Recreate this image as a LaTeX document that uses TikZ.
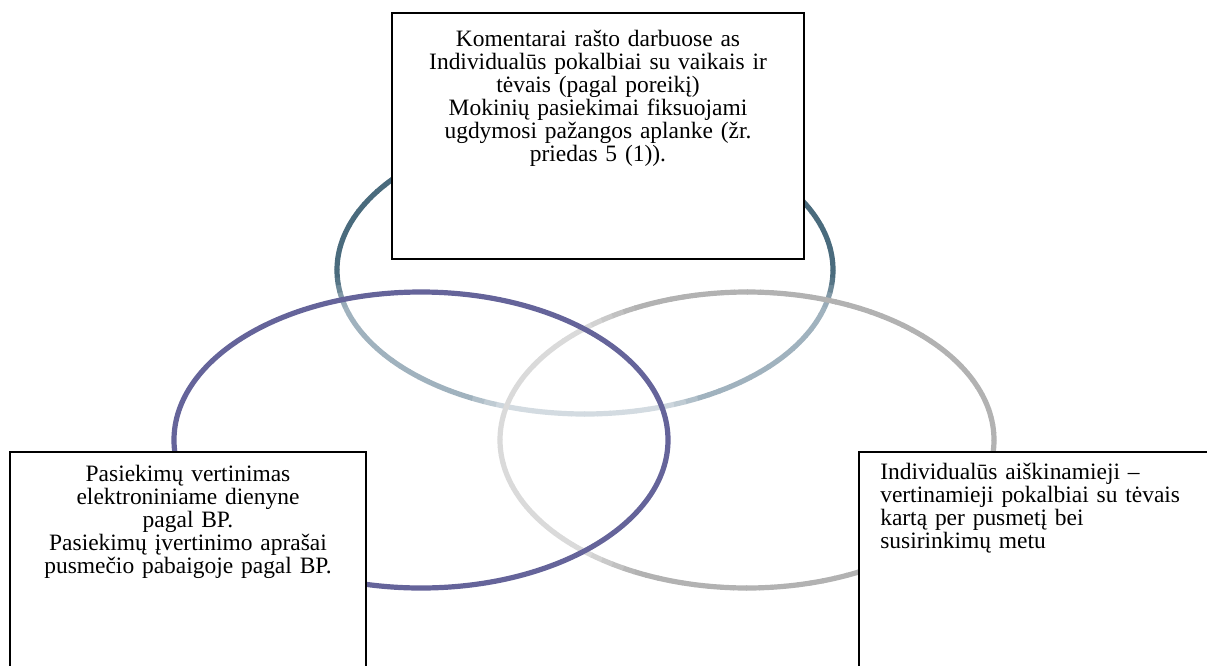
\documentclass[tikz,border=0pt]{standalone}
\usepackage{fontspec}
\setmainfont{Liberation Serif}
\usepackage{tikz}

\definecolor{topdark}{HTML}{4A6B7D}
\definecolor{topmid}{HTML}{A0B2BE}
\definecolor{toplight}{HTML}{D3DBE1}
\definecolor{leftring}{HTML}{65649A}
\definecolor{rightring}{HTML}{B2B2B2}
\definecolor{rightlight}{HTML}{DADADA}

\tikzset{
	ring/.style={line width=3.9pt},
	box/.style={draw=black, line width=1.3pt, fill=white, inner sep=0pt},
	boxtext/.style={inner sep=0pt, font=\fontsize{17.6}{17.3}\selectfont},
}

\begin{document}
\begin{tikzpicture}[x=0.75pt,y=-0.75pt]
				\useasboundingbox (0,0) rectangle (1207,665);
				\clip (0,0) rectangle (1207,665);
				\coordinate (ctop) at (585,270);
				\coordinate (cleft) at (421,440);
				\coordinate (cright) at (747,440);
				
				% top ring: dark above, lighter below
				\foreach \a in {0,3, ...,357}{
					\pgfmathsetmacro{\s}{sin(\a+1.5)}
					\pgfmathsetmacro{\p}{max(0,min(100,(0.25-\s)*500))}
					\pgfmathsetmacro{\q}{max(0,min(100,(\s-0.88)*1400))}
					\colorlet{segc}{topdark!\p!topmid}
					\colorlet{segc}{toplight!\q!segc}
					\draw[ring, segc] (ctop) + ({248*cos(\a)},{144*sin(\a)}) arc[x radius=248, y radius=144, start angle=\a, delta angle=3.2];
				}
				
				% right ring: lighter on the left
				\foreach \a in {0,3, ...,357}{
					\pgfmathsetmacro{\c}{cos(\a+1.5)}
					\pgfmathsetmacro{\p}{max(0,min(100,(-0.45-\c)*500))}
					\colorlet{segc}{rightlight!\p!rightring}
					\draw[ring, segc] (cright) + ({247*cos(\a)},{148*sin(\a)}) arc[x radius=247, y radius=148, start angle=\a, delta angle=3.2];
				}
				
				\draw[ring, leftring] (cleft) ellipse[x radius=247, y radius=148];
				
				\node[box, minimum width=309pt, minimum height=184.5pt] (topbox) at (598,136) {};
				\node[box, minimum width=267pt, minimum height=201pt] (leftbox) at (188,586) {};
				\node[box, minimum width=285.75pt, minimum height=201pt] (rightbox) at (1049.5,586) {};
				
				\node[boxtext, text width=295pt, align=center, anchor=base] (toptext) at (598,46) {Komentarai rašto darbuose as\\ Individualūs pokalbiai su vaikais ir\\ tėvais (pagal poreikį)\\ Mokinių pasiekimai fiksuojami\\ ugdymosi pažangos aplanke (žr.\\ priedas 5 (1)).};
				\node[boxtext, text width=260pt, align=center, anchor=base] (lefttext) at (188,481) {Pasiekimų vertinimas\\ elektroniniame dienyne\\ pagal BP.\\ Pasiekimų įvertinimo aprašai\\ pusmečio pabaigoje pagal BP.};
				\node[boxtext, text width=255pt, align=left, anchor=base west] (righttext) at (880,479) {Individualūs aiškinamieji –\\ vertinamieji pokalbiai su tėvais\\ kartą per pusmetį bei\\ susirinkimų metu};
			\end{tikzpicture}
\end{document}
